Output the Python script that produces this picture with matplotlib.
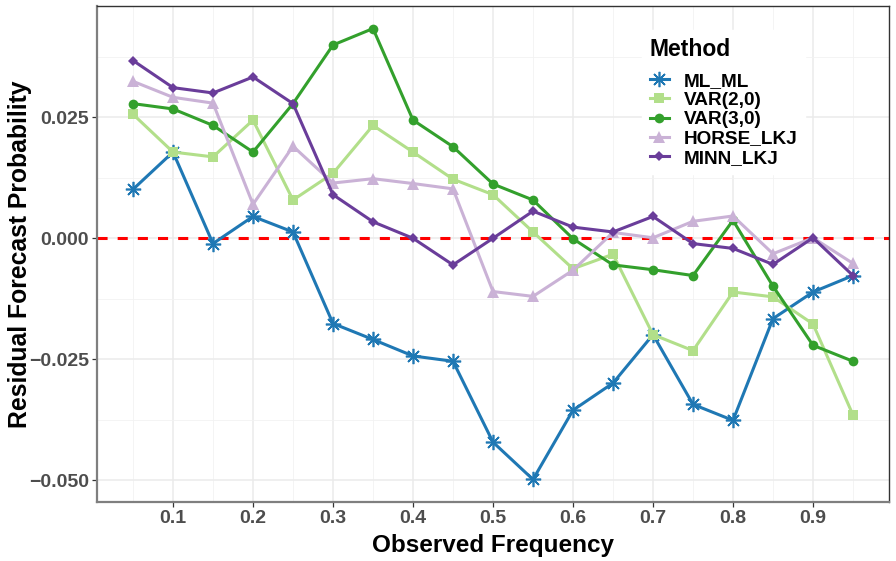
import numpy as np
import matplotlib
matplotlib.use("Agg")
import matplotlib.pyplot as plt

# ---- data ----
freq = [0.05, 0.10, 0.15, 0.20, 0.25, 0.30, 0.35, 0.40, 0.45, 0.50,
        0.55, 0.60, 0.65, 0.70, 0.75, 0.80, 0.85, 0.90, 0.95]

ml_ml = [0.0101, 0.0178, -0.0011, 0.0045, 0.0013, -0.0176, -0.0209, -0.0243, -0.0254, -0.0421,
         -0.0498, -0.0355, -0.0299, -0.0199, -0.0343, -0.0376, -0.0166, -0.0111, -0.0077]
var20 = [0.0256, 0.0178, 0.0168, 0.0244, 0.0079, 0.0134, 0.0233, 0.0178, 0.0122, 0.0090,
         0.0013, -0.0063, -0.0033, -0.0199, -0.0232, -0.0111, -0.0121, -0.0177, -0.0365]
var30 = [0.0278, 0.0267, 0.0233, 0.0178, 0.0278, 0.0399, 0.0433, 0.0244, 0.0189, 0.0112,
         0.0079, -0.0001, -0.0055, -0.0065, -0.0077, 0.0037, -0.0099, -0.0221, -0.0254]
horse_lkj = [0.0324, 0.0291, 0.0279, 0.0070, 0.0190, 0.0114, 0.0123, 0.0113, 0.0102, -0.0110,
             -0.0120, -0.0066, 0.0012, 0.0001, 0.0035, 0.0046, -0.0032, 0.0001, -0.0052]
minn_lkj = [0.0367, 0.0311, 0.0300, 0.0333, 0.0278, 0.0090, 0.0034, 0.0000, -0.0055, 0.0000,
            0.0056, 0.0023, 0.0013, 0.0045, -0.0011, -0.0021, -0.0054, 0.0001, -0.0077]

methods = ["ML_ML", "VAR(2,0)", "VAR(3,0)", "HORSE_LKJ", "MINN_LKJ"]
series = [ml_ml, var20, var30, horse_lkj, minn_lkj]
colors = ["#1F78B4", "#B2DF8A", "#33A02C", "#CAB2D6", "#6A3D9A"]

x_ticks = [0.1, 0.2, 0.3, 0.4, 0.5, 0.6, 0.7, 0.8, 0.9]
y_ticks = [-0.050, -0.025, 0.000, 0.025]
y_ticklabels = ["\u22120.050", "\u22120.025", "0.000", "0.025"]

# ---- style ----
plt.rcParams["font.family"] = ["Liberation Sans", "DejaVu Sans"]
plt.rcParams["font.weight"] = "bold"

W, H = 896, 561
fig = plt.figure(figsize=(W / 100, H / 100), dpi=100)
ax = fig.add_axes([97 / W, 1 - 502 / H, (889 - 97) / W, (502 - 6) / H])

markers = [(8, 2, 0), "s", "o", "^", "D"]
msizes = [11, 7, 7, 8, 5]
mews = [1.2, 0, 0, 0, 0]

ax.axhline(0, color="#FF0000", lw=2.2, ls=(0, (3.3, 3.3)), zorder=2)

for name, ys, c, m, ms, mew in zip(methods, series, colors, markers, msizes, mews):
    ax.plot(freq, ys, color=c, lw=2.2, marker=m, markersize=ms,
            markeredgewidth=mew, markeredgecolor=c, markerfacecolor=c,
            zorder=3, label=name, solid_joinstyle="round")

# limits like ggplot expansion
xmin, xmax = min(freq), max(freq)
xr = xmax - xmin
ax.set_xlim(xmin - 0.05 * xr, xmax + 0.05 * xr)
allv = np.concatenate([np.array(s) for s in series])
ymin, ymax = allv.min(), allv.max()
yr = ymax - ymin
ax.set_ylim(ymin - 0.05 * yr, ymax + 0.05 * yr)

ax.set_xticks(x_ticks)
ax.set_xticklabels([f"{v:.1f}" for v in x_ticks])
ax.set_yticks(y_ticks)
ax.set_yticklabels(y_ticklabels)
ax.set_xticks([0.05, 0.15, 0.25, 0.35, 0.45, 0.55, 0.65, 0.75, 0.85, 0.95], minor=True)
ax.set_yticks([-0.0375, -0.0125, 0.0125, 0.0375], minor=True)

ax.grid(which="major", color="#EBEBEB", lw=1.1, zorder=0)
ax.grid(which="minor", color="#F2F2F2", lw=0.6, zorder=0)
ax.set_axisbelow(True)

ax.tick_params(which="major", axis="both", length=3.5, width=0.9, color="#333333",
               labelsize=14, labelcolor="#4D4D4D", pad=2.5)
ax.tick_params(which="minor", length=0)
for lab in ax.get_xticklabels() + ax.get_yticklabels():
    lab.set_fontweight("bold")

for s in ["top", "right"]:
    ax.spines[s].set_color("#333333")
    ax.spines[s].set_linewidth(1.0)
for s in ["left", "bottom"]:
    ax.spines[s].set_color("#7F7F7F")
    ax.spines[s].set_linewidth(1.6)

ax.set_xlabel("Observed Frequency", fontsize=17.5, fontweight="bold", color="black", labelpad=4.5)
ax.set_ylabel("Residual Forecast Probability", fontsize=17.8, fontweight="bold", color="black", labelpad=-2.5)

leg = ax.legend(loc="upper left", bbox_to_anchor=(642 / W, 1 - 30 / H),
                bbox_transform=fig.transFigure,
                title="Method", frameon=True, fancybox=False,
                prop={"size": 13.7, "weight": "bold"},
                title_fontproperties={"size": 16.5, "weight": "bold"},
                handlelength=1.0, handletextpad=0.8, labelspacing=0.1,
                borderpad=0.4, borderaxespad=0)
leg.get_frame().set_facecolor("white")
leg.get_frame().set_edgecolor("white")
leg.get_frame().set_alpha(1.0)
leg._legend_box.align = "left"
leg._legend_box.sep = 8.5
leg.set_zorder(5)

fig.savefig("out.png", dpi=100)
